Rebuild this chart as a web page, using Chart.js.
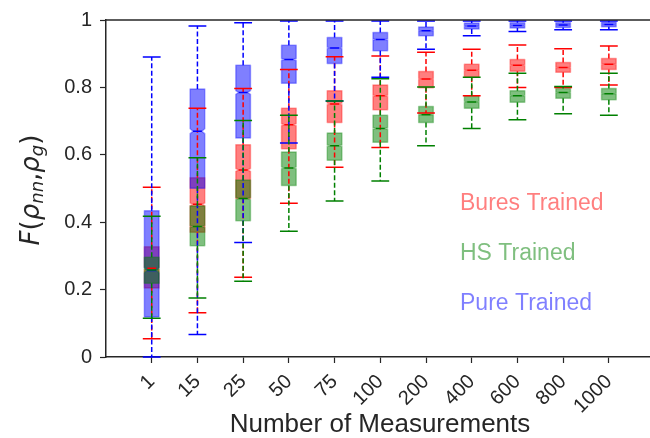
<!DOCTYPE html>
<html>
<head>
<meta charset="utf-8">
<script src="https://cdn.jsdelivr.net/npm/chart.js@4.4.1/dist/chart.umd.min.js"></script>
<style>
  html, body { margin: 0; padding: 0; background: #fff; }
</style>
</head>
<body>
<canvas id="chart" width="650" height="438"></canvas>
<script>
const categories = ['1', '15', '25', '50', '75', '100', '200', '400', '600', '800', '1000'];

// Bures trained (red)
const buresHi  = [0.504, 0.738, 0.797, 0.853, 0.891, 0.893, 0.904, 0.913, 0.926, 0.915, 0.923];
const buresQ3  = [0.327, 0.532, 0.630, 0.738, 0.790, 0.807, 0.847, 0.869, 0.883, 0.874, 0.886];
const buresMed = [0.263, 0.453, 0.555, 0.689, 0.751, 0.775, 0.825, 0.851, 0.866, 0.859, 0.869];
const buresQ1  = [0.205, 0.370, 0.470, 0.618, 0.696, 0.734, 0.799, 0.830, 0.848, 0.845, 0.853];
const buresLo  = [0.054, 0.131, 0.237, 0.456, 0.563, 0.622, 0.724, 0.775, 0.800, 0.800, 0.807];

// HS trained (green)
const hsHi  = [0.418, 0.591, 0.702, 0.717, 0.760, 0.826, 0.801, 0.830, 0.842, 0.803, 0.842];
const hsQ3  = [0.296, 0.448, 0.525, 0.608, 0.665, 0.717, 0.743, 0.775, 0.790, 0.797, 0.797];
const hsMed = [0.258, 0.387, 0.470, 0.561, 0.627, 0.678, 0.719, 0.757, 0.775, 0.785, 0.781];
const hsQ1  = [0.219, 0.330, 0.404, 0.509, 0.584, 0.637, 0.696, 0.738, 0.756, 0.768, 0.763];
const hsLo  = [0.115, 0.175, 0.225, 0.373, 0.463, 0.522, 0.627, 0.678, 0.704, 0.722, 0.717];

// Pure trained (blue)
const pureHi  = [0.890, 0.982, 0.992, 0.997, 0.997, 0.997, 0.997, 0.997, 0.997, 0.997, 0.997];
const pureQ3  = [0.434, 0.795, 0.866, 0.925, 0.948, 0.963, 0.979, 0.991, 0.992, 0.992, 0.993];
const pureMed = [0.257, 0.670, 0.785, 0.883, 0.917, 0.942, 0.968, 0.982, 0.984, 0.985, 0.987];
const pureQ1  = [0.119, 0.501, 0.650, 0.812, 0.871, 0.909, 0.953, 0.973, 0.976, 0.978, 0.980];
const pureLo  = [0.000, 0.067, 0.340, 0.635, 0.760, 0.830, 0.913, 0.953, 0.966, 0.971, 0.971];

const yTicks = [0, 0.2, 0.4, 0.6, 0.8, 1];

const series = [
    { label: 'Bures Trained', rgb: '255,0,0',  hi: buresHi, q3: buresQ3, med: buresMed, q1: buresQ1, lo: buresLo },
    { label: 'Pure Trained',  rgb: '0,0,255',  hi: pureHi,  q3: pureQ3,  med: pureMed,  q1: pureQ1,  lo: pureLo },
    { label: 'HS Trained',    rgb: '0,128,0',  hi: hsHi,    q3: hsQ3,    med: hsMed,    q1: hsQ1,    lo: hsLo }
];
const legendOrder = ['Bures Trained', 'HS Trained', 'Pure Trained'];

const AXIS = '#262626';
const FONT = "'Liberation Sans', Arial, sans-serif";
const MATH = "'DejaVu Sans', sans-serif";

const boxPlot = {
    id: 'boxPlot',
    afterDatasetsDraw(chart) {
        const ctx = chart.ctx;
        const xs = chart.scales.x, ys = chart.scales.y;
        const px = v => xs.getPixelForValue(v);
        const py = v => ys.getPixelForValue(v);
        const boxW = 0.16, capW = 0.195;

        // boxes first (patches sit under the lines)
        series.forEach(s => {
            categories.forEach((c, i) => {
                const x = i + 1;
                const l = px(x - boxW), r = px(x + boxW);
                const il = px(x - boxW * 0.6), ir = px(x + boxW * 0.6);
                const n = 0.025 * (s.q3[i] - s.q1[i]);
                ctx.save();
                ctx.beginPath();
                ctx.moveTo(l, py(s.q1[i]));
                ctx.lineTo(r, py(s.q1[i]));
                ctx.lineTo(r, py(s.med[i] - n));
                ctx.lineTo(ir, py(s.med[i]));
                ctx.lineTo(r, py(s.med[i] + n));
                ctx.lineTo(r, py(s.q3[i]));
                ctx.lineTo(l, py(s.q3[i]));
                ctx.lineTo(l, py(s.med[i] + n));
                ctx.lineTo(il, py(s.med[i]));
                ctx.lineTo(l, py(s.med[i] - n));
                ctx.closePath();
                ctx.fillStyle = `rgba(${s.rgb},0.5)`;
                ctx.fill();
                ctx.lineWidth = 1.5;
                ctx.lineJoin = 'round';
                ctx.strokeStyle = `rgba(${s.rgb},0.35)`;
                ctx.stroke();
                ctx.restore();
            });
        });

        // whiskers, caps, medians
        series.forEach(s => {
            const col = `rgb(${s.rgb})`;
            categories.forEach((c, i) => {
                const x = i + 1;
                const cx = px(x);
                ctx.save();
                ctx.strokeStyle = col;
                ctx.lineWidth = 1.5;
                ctx.setLineDash([5, 2.5]);
                ctx.beginPath();
                ctx.moveTo(cx, py(s.q3[i]));
                ctx.lineTo(cx, py(s.hi[i]));
                ctx.moveTo(cx, py(s.q1[i]));
                ctx.lineTo(cx, py(s.lo[i]));
                ctx.stroke();
                ctx.setLineDash([]);
                ctx.beginPath();
                ctx.moveTo(px(x - capW), py(s.hi[i]));
                ctx.lineTo(px(x + capW), py(s.hi[i]));
                ctx.moveTo(px(x - capW), py(s.lo[i]));
                ctx.lineTo(px(x + capW), py(s.lo[i]));
                ctx.moveTo(px(x - boxW * 0.6), py(s.med[i]));
                ctx.lineTo(px(x + boxW * 0.6), py(s.med[i]));
                ctx.stroke();
                ctx.restore();
            });
        });

        // top spine
        const a = chart.chartArea;
        ctx.save();
        ctx.strokeStyle = AXIS;
        ctx.lineWidth = 1.5;
        ctx.beginPath();
        ctx.moveTo(a.left, a.top);
        ctx.lineTo(a.right, a.top);
        ctx.stroke();
        ctx.restore();
    },
    afterDraw(chart) {
        const ctx = chart.ctx;
        ctx.save();
        // legend as coloured text
        ctx.font = `23px ${FONT}`;
        ctx.textAlign = 'left';
        ctx.textBaseline = 'middle';
        legendOrder.forEach((name, k) => {
            const s = series.find(d => d.label === name);
            ctx.fillStyle = `rgba(${s.rgb},0.5)`;
            ctx.fillText(name, 460, 204 + k * 50);
        });

        // x title
        ctx.fillStyle = AXIS;
        ctx.font = `26px ${FONT}`;
        ctx.textAlign = 'center';
        ctx.fillText('Number of Measurements', 380, 425);

        // y title: F(ρ_nn, ρ_g)
        const parts = [
            { t: 'F', f: `italic 26px ${MATH}`, dy: 0 },
            { t: '(', f: `26px ${MATH}`, dy: 0 },
            { t: 'ρ', f: `italic 26px ${MATH}`, dy: 0 },
            { t: 'nn', f: `italic 18px ${MATH}`, dy: 6 },
            { t: ',', f: `26px ${MATH}`, dy: 0 },
            { t: 'ρ', f: `italic 26px ${MATH}`, dy: 0 },
            { t: 'g', f: `italic 18px ${MATH}`, dy: 6 },
            { t: ')', f: `26px ${MATH}`, dy: 0 }
        ];
        let total = 0;
        parts.forEach(p => { ctx.font = p.f; p.w = ctx.measureText(p.t).width; total += p.w; });
        ctx.translate(32, 190);
        ctx.rotate(-Math.PI / 2);
        ctx.textAlign = 'left';
        let cur = -total / 2;
        parts.forEach(p => {
            ctx.font = p.f;
            ctx.fillText(p.t, cur, p.dy);
            cur += p.w;
        });
        ctx.restore();
    }
};

new Chart(document.getElementById('chart'), {
    type: 'scatter',
    data: { datasets: [] },
    options: {
        responsive: false,
        animation: false,
        layout: { padding: { top: 18, right: 0, bottom: 0, left: 0 } },
        plugins: {
            legend: { display: false },
            tooltip: { enabled: false }
        },
        scales: {
            x: {
                type: 'linear',
                min: 0,
                max: 11.9,
                afterFit: scale => { scale.height = 81; },
                afterBuildTicks: scale => {
                    scale.ticks = categories.map((c, i) => ({ value: i + 1 }));
                },
                ticks: {
                    callback: value => categories[value - 1] ?? '',
                    minRotation: 45,
                    maxRotation: 45,
                    color: AXIS,
                    font: { family: FONT, size: 20 },
                    padding: 7
                },
                grid: { drawOnChartArea: false, tickLength: 6, color: AXIS, tickWidth: 1.2 },
                border: { color: AXIS, width: 1.5 }
            },
            y: {
                min: 0,
                max: 1,
                afterFit: scale => { scale.width = 106; },
                afterBuildTicks: scale => {
                    scale.ticks = yTicks.map(v => ({ value: v }));
                },
                ticks: {
                    callback: value => String(value),
                    color: AXIS,
                    font: { family: FONT, size: 20 },
                    padding: 8
                },
                grid: { drawOnChartArea: false, tickLength: 6, color: AXIS, tickWidth: 1.2 },
                border: { color: AXIS, width: 1.5 }
            }
        }
    },
    plugins: [boxPlot]
});
</script>
</body>
</html>
